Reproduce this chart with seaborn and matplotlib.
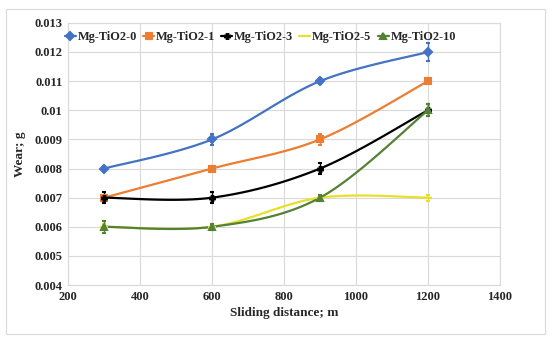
import numpy as np
import matplotlib.pyplot as plt
import seaborn as sns

distance = [300, 600, 900, 1200]
series_names = ['Mg-TiO2-0', 'Mg-TiO2-1', 'Mg-TiO2-3', 'Mg-TiO2-5', 'Mg-TiO2-10']
wear_0 = [0.008, 0.009, 0.011, 0.012]
wear_1 = [0.007, 0.008, 0.009, 0.011]
wear_3 = [0.007, 0.007, 0.008, 0.010]
wear_5 = [0.006, 0.006, 0.007, 0.007]
wear_10 = [0.006, 0.006, 0.007, 0.010]
err_0 = [0.0001, 0.0002, 0.0001, 0.0003]
err_1 = [0.0001, 0.0001, 0.0002, 0.0001]
err_3 = [0.0002, 0.0002, 0.0002, 0.0002]
err_5 = [0.0001, 0.0001, 0.0001, 0.0001]
err_10 = [0.0002, 0.0001, 0.0001, 0.0002]

colors = ['#4472C4', '#ED7D31', '#000000', '#E6E02A', '#548235']
markers = ['D', 's', 'P', '_', '^']
msizes = [4, 5, 3.5, 6, 4]


def smooth(x, y, n=30):
    # Excel style smoothed line: Bezier through the points
    x = np.asarray(x, float)
    y = np.asarray(y, float)
    px = np.concatenate([[x[0]], x, [x[-1]]])
    py = np.concatenate([[y[0]], y, [y[-1]]])
    xs, ys = [], []
    t = np.linspace(0, 1, n)
    for i in range(1, len(px) - 2):
        p0 = np.array([px[i], py[i]])
        p3 = np.array([px[i + 1], py[i + 1]])
        p1 = p0 + (np.array([px[i + 1], py[i + 1]]) - np.array([px[i - 1], py[i - 1]])) / 6
        p2 = p3 - (np.array([px[i + 2], py[i + 2]]) - np.array([px[i], py[i]])) / 6
        b = ((1 - t) ** 3)[:, None] * p0 + (3 * (1 - t) ** 2 * t)[:, None] * p1 \
            + (3 * (1 - t) * t ** 2)[:, None] * p2 + (t ** 3)[:, None] * p3
        xs.extend(b[:, 0])
        ys.extend(b[:, 1])
    return np.array(xs), np.array(ys)


sns.set_style('white')
plt.rcParams['font.family'] = ['Liberation Serif', 'DejaVu Serif']
plt.rcParams['font.weight'] = 'bold'

fig = plt.figure(figsize=(5.5, 3.41), dpi=100)
ax = fig.add_axes([0.124, 0.164, 0.785, 0.769])

all_wear = [wear_0, wear_1, wear_3, wear_5, wear_10]
all_err = [err_0, err_1, err_3, err_5, err_10]
for name, w, e, c, m, ms in zip(series_names, all_wear, all_err, colors, markers, msizes):
    sx, sy = smooth(distance, w)
    sns.lineplot(x=sx, y=sy, color=c, linewidth=1.6, ax=ax, sort=False)
    ax.errorbar(distance, w, yerr=e, fmt=m, color=c, markersize=ms, mew=1.5,
                elinewidth=1, capsize=1.5, capthick=1)
    ax.plot([], [], color=c, marker=m, markersize=ms, mew=1.5, linewidth=1.6, label=name)

ax.set_xlim(200, 1400)
ax.set_ylim(0.004, 0.013)
ax.set_xticks(range(200, 1401, 200))
ax.set_yticks(np.arange(0.004, 0.0131, 0.001))
ax.set_yticklabels(['0.004', '0.005', '0.006', '0.007', '0.008', '0.009', '0.01', '0.011', '0.012', '0.013'])
ax.grid(True, color='#D9D9D9', linewidth=0.8)
for s in ax.spines.values():
    s.set_color('#D9D9D9')
ax.tick_params(length=0, labelsize=9, pad=4)
for lab in ax.get_xticklabels() + ax.get_yticklabels():
    lab.set_fontweight('bold')
ax.set_xlabel('Sliding distance; m', fontsize=9.5, fontweight='bold', labelpad=3)
ax.set_ylabel('Wear; g', fontsize=9.5, fontweight='bold', labelpad=6)

ax.legend(loc='upper left', bbox_to_anchor=(-0.025, 0.995), ncol=5, frameon=False,
          prop={'weight': 'bold', 'size': 8.8}, handlelength=0.9, handletextpad=0.15,
          columnspacing=0.5, borderaxespad=0.2)

fig.patches.append(plt.Rectangle((0.01, 0.02), 0.98, 0.955, transform=fig.transFigure,
                                 fill=False, edgecolor='#D9D9D9', linewidth=0.8))
fig.savefig('out.png', dpi=100)
